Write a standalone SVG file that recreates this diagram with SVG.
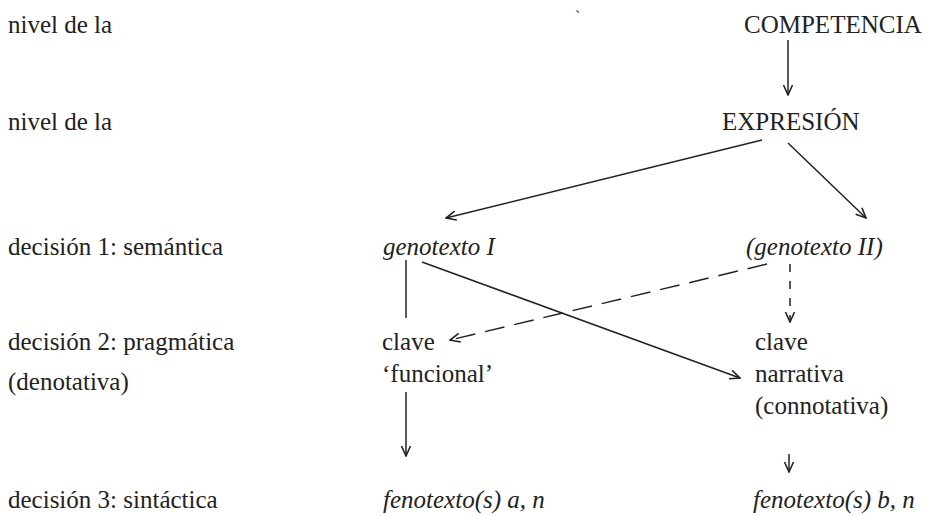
<svg xmlns="http://www.w3.org/2000/svg" width="930" height="516" viewBox="0 0 930 516">
<defs>
<style>
text{font-family:"Liberation Serif","Times New Roman",serif;font-size:25px;fill:#222}
.it{font-style:italic}
.ln{stroke:#222;stroke-width:1.5;fill:none}
.ds{stroke-dasharray:20,10}
.dv{stroke-dasharray:8,9}
</style>
<marker id="ah" viewBox="0 0 12 12" refX="11" refY="6" markerWidth="12" markerHeight="12" markerUnits="userSpaceOnUse" orient="auto">
<path d="M1,1.5 L11,6 L1,10.5" fill="none" stroke="#222" stroke-width="1.6"/>
</marker>
</defs>
<rect width="930" height="516" fill="#fff"/>
<g id="labels">
<text x="8" y="33">nivel de la</text>
<text x="8" y="130">nivel de la</text>
<text x="8" y="255">decisión 1: semántica</text>
<text x="8" y="350">decisión 2: pragmática</text>
<text x="8" y="390">(denotativa)</text>
<text x="8" y="508">decisión 3: sintáctica</text>
<text x="575" y="22" style="font-size:16px">`</text>
</g>
<g id="competencia"><text x="744" y="33">COMPETENCIA</text></g>
<g id="expresion"><text x="722" y="130">EXPRESIÓN</text></g>
<g id="genotexto1"><text class="it" x="383" y="255">genotexto I</text></g>
<g id="genotexto2"><text class="it" x="746" y="255">(genotexto II)</text></g>
<g id="clave1"><text x="382" y="350">clave</text><text x="382" y="382">‘funcional’</text></g>
<g id="clave2"><text x="755" y="350">clave</text><text x="755" y="382">narrativa</text><text x="755" y="414">(connotativa)</text></g>
<g id="fenotexto1"><text class="it" x="383" y="508">fenotexto(s) a, n</text></g>
<g id="fenotexto2"><text class="it" x="753" y="508">fenotexto(s) b, n</text></g>
<g id="connectors">
<line class="ln" x1="788" y1="40" x2="788" y2="95" marker-end="url(#ah)"/>
<line class="ln" x1="762" y1="140" x2="446" y2="218" marker-end="url(#ah)"/>
<line class="ln" x1="788" y1="143" x2="866" y2="218" marker-end="url(#ah)"/>
<line class="ln" x1="406" y1="260" x2="406" y2="318"/>
<line class="ln" x1="422" y1="262" x2="740" y2="378" marker-end="url(#ah)"/>
<line class="ln ds" x1="767" y1="264" x2="450" y2="340" marker-end="url(#ah)"/>
<line class="ln dv" x1="790" y1="264" x2="790" y2="322" marker-end="url(#ah)"/>
<line class="ln" x1="406" y1="392" x2="406" y2="456" marker-end="url(#ah)"/>
<line class="ln" x1="789" y1="454" x2="789" y2="472" marker-end="url(#ah)"/>
</g>
</svg>
